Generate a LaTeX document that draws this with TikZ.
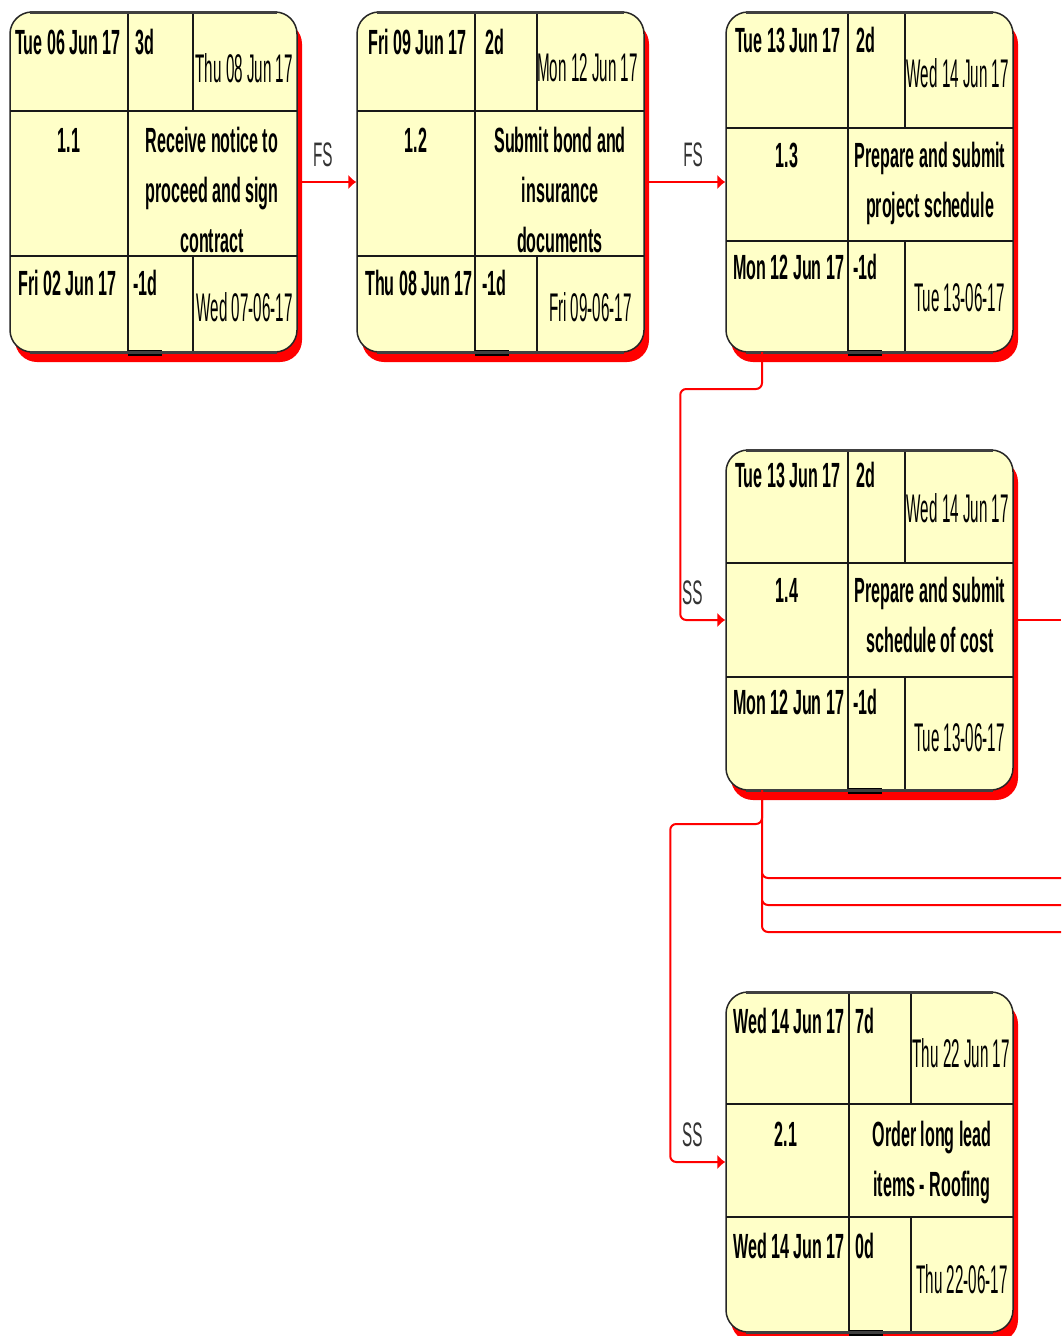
\documentclass[tikz,border=0pt]{standalone}
\usepackage{fontspec}
\usetikzlibrary{arrows.meta, positioning}

\newfontfamily\cellfont[FakeStretch=0.46]{Liberation Sans}
\newfontfamily\datefont[FakeStretch=0.38]{Liberation Sans}
\newfontfamily\labelfont[FakeStretch=0.45]{Liberation Sans}
\newcommand{\boldcell}{\cellfont\bfseries\fontsize{35}{50}\selectfont}
\newcommand{\plaincell}{\datefont\fontsize{40}{50}\selectfont}

\definecolor{boxyellow}{RGB}{255,255,200}
\definecolor{linkred}{RGB}{255,0,0}

\tikzset{
  taskbox/.style={draw=black!85, line width=1.5pt, fill=boxyellow,
                  rounded corners=22pt, minimum width=287pt,
                  minimum height=340pt, inner sep=0pt},
  boxshadow/.style={fill=linkred, rounded corners=22pt},
  cell/.style={draw=black!90, line width=1.8pt},
  rim/.style={draw=black!75, line width=3pt},
  lefttext/.style={inner sep=0pt, anchor=west, font=\boldcell},
  righttext/.style={inner sep=0pt, anchor=east, font=\plaincell},
  idtext/.style={inner sep=0pt, font=\boldcell},
  nametext/.style={inner sep=0pt, anchor=north, align=center, font=\boldcell},
  wire/.style={draw=linkred, line width=2pt},
  link/.style={wire, -{Latex[length=8pt,width=15pt]}},
  linklabel/.style={above=14pt, inner sep=0pt,
                    font=\labelfont\fontsize{34}{40}\selectfont, text=black!80},
}

% frame of one task box: name, two row lines, two column lines
\newcommand{\taskframe}[5]{%
  \fill[boxshadow] (5,10) rectangle (292,350);
  \node[taskbox] (#1) at (143.5,170) {};
  \draw[cell] (0,#2) -- (287,#2) (0,#3) -- (287,#3)
              (#4,0) -- (#4,340)
              (#5,0) -- (#5,#2) (#5,#3) -- (#5,340);
  \fill (#4,338) rectangle ++(34,6);
  \draw[rim] (20,0) -- (267,0) (20,340) -- (267,340);
  \coordinate (#1-out) at (36,340);
}

\begin{document}
\begin{tikzpicture}[x=1pt, y=-1pt]
  \fill[white] (0,0) rectangle (1061,1336);
  \useasboundingbox (0,0) rectangle (1061,1336);

  % 1.1
  \begin{scope}[shift={(10,12)}]
    \taskframe{t11}{99}{244}{118}{183}
    \node[lefttext] (t11-es) at (5,30) {Tue 06 Jun 17};
    \node[lefttext] (t11-dur) at (125,30) {3d};
    \node[righttext] (t11-ef) at (283,56) {Thu 08 Jun 17};
    \node[idtext] (t11-id) at (59,128) {1.1};
    \begin{scope}
      \clip (118,99) rectangle (287,240);
      \node[nametext] (t11-name) at (202,115) {Receive notice to\\proceed and sign\\contract};
    \end{scope}
    \node[lefttext] (t11-ls) at (8,271) {Fri 02 Jun 17};
    \node[lefttext] (t11-sl) at (123,271) {-1d};
    \node[righttext] (t11-lf) at (283,295) {Wed 07-06-17};
  \end{scope}

  % 1.2
  \begin{scope}[shift={(357,12)}]
    \taskframe{t12}{99}{244}{118}{180}
    \node[lefttext] (t12-es) at (11,30) {Fri 09 Jun 17};
    \node[lefttext] (t12-dur) at (128,30) {2d};
    \node[righttext] (t12-ef) at (281,56) {Mon 12 Jun 17};
    \node[idtext] (t12-id) at (59,128) {1.2};
    \begin{scope}
      \clip (118,99) rectangle (287,240);
      \node[nametext] (t12-name) at (203,115) {Submit bond and\\insurance\\documents};
    \end{scope}
    \node[lefttext] (t12-ls) at (8,271) {Thu 08 Jun 17};
    \node[lefttext] (t12-sl) at (125,271) {-1d};
    \node[righttext] (t12-lf) at (275,295) {Fri 09-06-17};
  \end{scope}

  % 1.3
  \begin{scope}[shift={(726,12)}]
    \taskframe{t13}{116}{229}{122}{179}
    \node[lefttext] (t13-es) at (9,28) {Tue 13 Jun 17};
    \node[lefttext] (t13-dur) at (130,28) {2d};
    \node[righttext] (t13-ef) at (283,61) {Wed 14 Jun 17};
    \node[idtext] (t13-id) at (61,143) {1.3};
    \node[nametext] (t13-name) at (204,130) {Prepare and submit\\project schedule};
    \node[lefttext] (t13-ls) at (7,255) {Mon 12 Jun 17};
    \node[lefttext] (t13-sl) at (127,255) {-1d};
    \node[righttext] (t13-lf) at (279,286) {Tue 13-06-17};
  \end{scope}

  % 1.4
  \begin{scope}[shift={(726,450)}]
    \taskframe{t14}{113}{227}{122}{179}
    \node[lefttext] (t14-es) at (9,25) {Tue 13 Jun 17};
    \node[lefttext] (t14-dur) at (130,25) {2d};
    \node[righttext] (t14-ef) at (283,58) {Wed 14 Jun 17};
    \node[idtext] (t14-id) at (61,140) {1.4};
    \node[nametext] (t14-name) at (204,127) {Prepare and submit\\schedule of cost};
    \node[lefttext] (t14-ls) at (7,252) {Mon 12 Jun 17};
    \node[lefttext] (t14-sl) at (127,252) {-1d};
    \node[righttext] (t14-lf) at (279,288) {Tue 13-06-17};
  \end{scope}

  % 2.1
  \begin{scope}[shift={(726,992)}]
    \taskframe{t21}{112}{225}{123}{185}
    \node[lefttext] (t21-es) at (7,29) {Wed 14 Jun 17};
    \node[lefttext] (t21-dur) at (129,29) {7d};
    \node[righttext] (t21-ef) at (284,61) {Thu 22 Jun 17};
    \node[idtext] (t21-id) at (60,142) {2.1};
    \node[nametext] (t21-name) at (206,129) {Order long lead\\items - Roofing};
    \node[lefttext] (t21-ls) at (7,254) {Wed 14 Jun 17};
    \node[lefttext] (t21-sl) at (129,254) {0d};
    \node[righttext] (t21-lf) at (282,287) {Thu 22-06-17};
  \end{scope}

  % loose ends running off to the right
  \coordinate (e1) at (1061,620);
  \coordinate (e2) at (1061,878);
  \coordinate (e3) at (1061,905);
  \coordinate (e4) at (1061,932);

  % links
  \draw[link] (t11.east) -- node[linklabel, pos=0.43] {FS} (t12.west);
  \draw[link] (t12.east) -- node[linklabel, pos=0.6] {FS} (t13.west);
  \draw[link, rounded corners=6pt] (t13-out) -- ++(0,37)
        -| ([xshift=-45pt]t14.west) -- node[linklabel, pos=0.27] {SS} (t14.west);
  \draw[link, rounded corners=6pt] (t14-out) -- ++(0,34)
        -| ([xshift=-55pt]t21.west) -- node[linklabel, pos=0.4] {SS} (t21.west);
  \draw[wire, rounded corners=6pt] (t14-out) |- (e2) (t14-out) |- (e3) (t14-out) |- (e4);
  \draw[wire] (t14.east) -- (e1);
\end{tikzpicture}
\end{document}
